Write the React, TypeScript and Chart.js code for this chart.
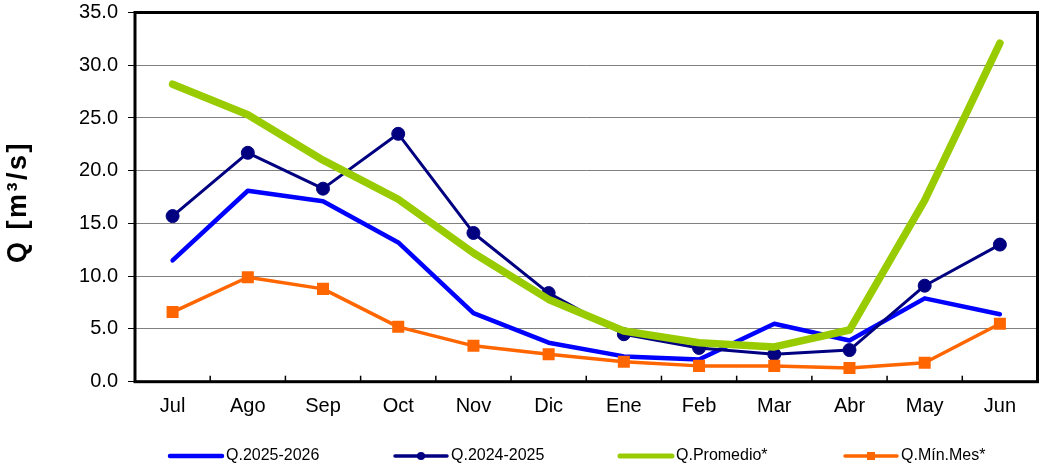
import React, { useEffect, useRef } from "react";
import { Chart, registerables } from "chart.js";

Chart.register(...registerables);

const months = ["Jul", "Ago", "Sep", "Oct", "Nov", "Dic", "Ene", "Feb", "Mar", "Abr", "May", "Jun"];
const q2025_2026 = [11.5, 18.1, 17.1, 13.2, 6.5, 3.7, 2.4, 2.1, 5.5, 3.9, 7.9, 6.4];
const q2024_2025 = [15.7, 21.7, 18.3, 23.5, 14.1, 8.4, 4.5, 3.2, 2.6, 3.0, 9.1, 13.0];
const qPromedio = [28.2, 25.3, 21.0, 17.3, 12.2, 7.8, 4.8, 3.7, 3.3, 4.9, 17.2, 32.1];
const qMinMes = [6.6, 9.9, 8.8, 5.2, 3.4, 2.6, 1.9, 1.5, 1.5, 1.3, 1.8, 5.5];
const seriesNames = ["Q.2025-2026", "Q.2024-2025", "Q.Promedio*", "Q.Mín.Mes*"];
const yTitle = "Q [m³/s]";

const FONT = "'Liberation Sans', Arial, sans-serif";

const legendItems = [
  { color: "#0000FF", width: 4.5, marker: "none" },
  { color: "#000080", width: 3.5, marker: "circle" },
  { color: "#99CC00", width: 5, marker: "none" },
  { color: "#FF6600", width: 3.5, marker: "rect" },
];

const framePlugin = {
  id: "frameAndTicks",
  beforeDatasetsDraw(chart: any) {
    const { ctx, chartArea } = chart;
    const x = chart.scales.x;
    ctx.save();
    ctx.strokeStyle = "#000";
    ctx.lineWidth = 1.5;
    const n = months.length;
    for (let i = 0; i < n - 1; i++) {
      const px = (x.getPixelForValue(i) + x.getPixelForValue(i + 1)) / 2;
      ctx.beginPath();
      ctx.moveTo(px, chartArea.bottom);
      ctx.lineTo(px, chartArea.bottom - 6);
      ctx.stroke();
    }
    ctx.lineWidth = 3;
    ctx.strokeRect(chartArea.left, chartArea.top, chartArea.right - chartArea.left, chartArea.bottom - chartArea.top);
    ctx.restore();
  },
};

const legendPlugin = {
  id: "customLegend",
  afterDraw(chart: any) {
    const { ctx } = chart;
    const y = 456;
    ctx.save();
    legendItems.forEach((it, i) => {
      const x0 = 170 + i * 225;
      ctx.strokeStyle = it.color;
      ctx.lineWidth = it.width;
      ctx.lineCap = "round";
      ctx.beginPath();
      ctx.moveTo(x0, y);
      ctx.lineTo(x0 + 52, y);
      ctx.stroke();
      ctx.fillStyle = it.color;
      if (it.marker === "circle") {
        ctx.beginPath();
        ctx.arc(x0 + 26, y, 4, 0, Math.PI * 2);
        ctx.fill();
      } else if (it.marker === "rect") {
        ctx.fillRect(x0 + 22, y - 4, 8, 8);
      }
      ctx.fillStyle = "#000";
      ctx.font = `16px ${FONT}`;
      ctx.textBaseline = "middle";
      ctx.textAlign = "left";
      ctx.fillText(seriesNames[i], x0 + 56, y);
    });
    // y-axis title
    ctx.translate(19, 202);
    ctx.rotate(-Math.PI / 2);
    ctx.font = `bold 27px ${FONT}`;
    try {
      (ctx as any).letterSpacing = "2.5px";
    } catch (e) {}
    ctx.textAlign = "center";
    ctx.textBaseline = "middle";
    ctx.fillStyle = "#000";
    ctx.fillText(yTitle, 0, 0);
    ctx.restore();
  },
};

export default function App() {
  const ref = useRef<HTMLCanvasElement | null>(null);
  useEffect(() => {
    if (!ref.current) return;
    const chart = new Chart(ref.current, {
      type: "line",
      data: {
        labels: months,
        datasets: [
          {
            label: seriesNames[0],
            data: q2025_2026,
            borderColor: "#0000FF",
            backgroundColor: "#0000FF",
            borderWidth: 4.5,
            pointRadius: 0,
            borderCapStyle: "round",
            borderJoinStyle: "round",
            order: 4,
          },
          {
            label: seriesNames[1],
            data: q2024_2025,
            borderColor: "#000080",
            backgroundColor: "#000080",
            borderWidth: 3,
            pointRadius: 6.5,
            pointStyle: "circle",
            pointBorderWidth: 1,
            borderCapStyle: "round",
            borderJoinStyle: "round",
            order: 3,
          },
          {
            label: seriesNames[2],
            data: qPromedio,
            borderColor: "#99CC00",
            backgroundColor: "#99CC00",
            borderWidth: 7.5,
            pointRadius: 0,
            borderCapStyle: "round",
            borderJoinStyle: "round",
            order: 2,
          },
          {
            label: seriesNames[3],
            data: qMinMes,
            borderColor: "#FF6600",
            backgroundColor: "#FF6600",
            borderWidth: 3.5,
            pointRadius: 8.5,
            pointStyle: "rect",
            pointBorderWidth: 0,
            borderCapStyle: "round",
            borderJoinStyle: "round",
            order: 1,
          },
        ],
      },
      options: {
        animation: false,
        responsive: false,
        devicePixelRatio: 1,
        layout: { padding: { left: 0, right: 6, top: 12.5, bottom: 0 } },
        plugins: {
          legend: { display: false },
          tooltip: { enabled: false },
        },
        scales: {
          x: {
            type: "category",
            offset: true,
            grid: { display: false, drawTicks: false, offset: true },
            border: { display: false },
            ticks: { color: "#000", font: { family: FONT, size: 20 }, padding: 13, maxRotation: 0 },
            afterFit(scale: any) {
              scale.height = 84.3;
              scale.paddingLeft = 0;
              scale.paddingRight = 0;
            },
          },
          y: {
            min: 0,
            max: 35,
            border: { display: false },
            grid: { color: "#808080", lineWidth: 1, tickColor: "#000", tickLength: 7, drawTicks: true },
            ticks: {
              stepSize: 5,
              color: "#000",
              font: { family: FONT, size: 20 },
              padding: 10,
              callback: (v: any) => Number(v).toFixed(1),
            },
            title: { display: false },
            afterFit(scale: any) {
              scale.width = 135;
              scale.paddingTop = 0;
              scale.paddingBottom = 0;
            },
          },
        },
      },
      plugins: [framePlugin, legendPlugin],
    });
    return () => chart.destroy();
  }, []);
  return (
    <div style={{ position: "fixed", left: 0, top: 0, width: 1046, height: 466, background: "#fff" }}>
      <canvas ref={ref} width={1046} height={466} style={{ width: 1046, height: 466, display: "block" }} />
    </div>
  );
}
